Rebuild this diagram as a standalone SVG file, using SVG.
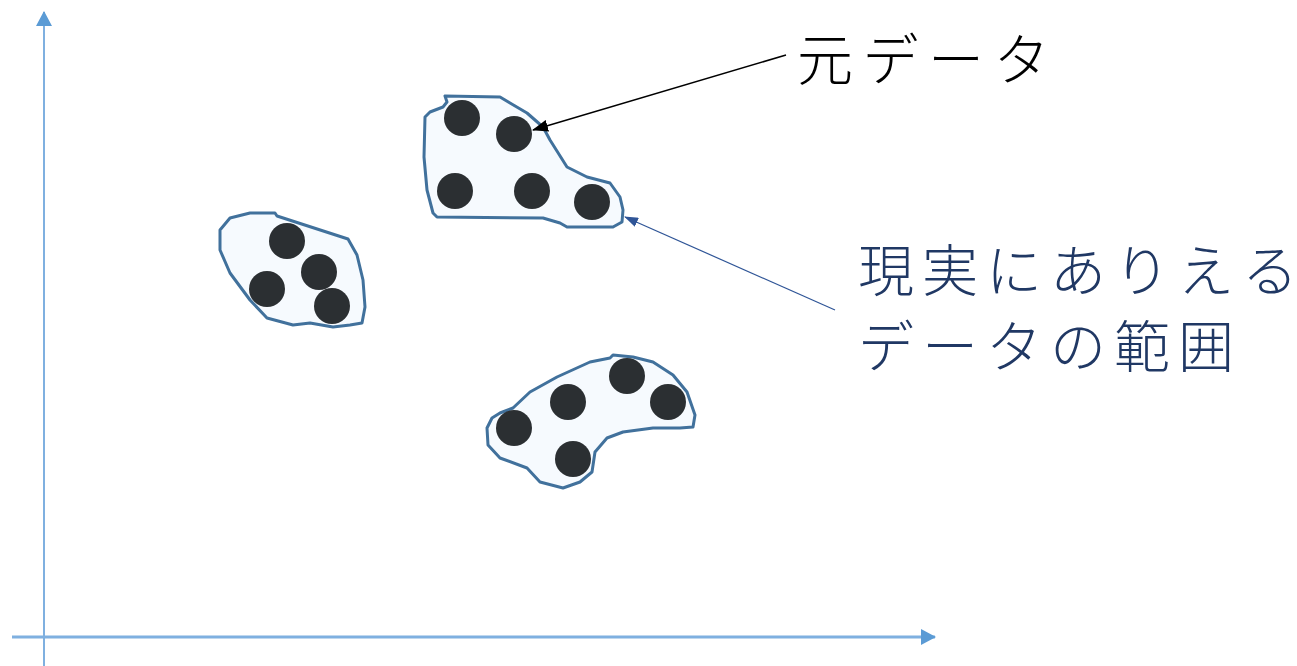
<svg xmlns="http://www.w3.org/2000/svg" width="1297" height="666" viewBox="0 0 1297 666">
<style>
.blob{fill:#F6FAFE;stroke:#41719C;stroke-width:3;stroke-linejoin:round}
.dot{fill:#2B2F32}
.axis{stroke:#7FB0E0;stroke-width:2;fill:none}
.lbl{font-family:"Noto Sans CJK JP","Noto Sans",sans-serif;font-size:56px;font-weight:300}
</style>
<defs>
<marker id="axHead" markerWidth="15" markerHeight="16" refX="14" refY="8" orient="auto" markerUnits="userSpaceOnUse" viewBox="0 0 15 16"><path d="M0,0 L15,8 L0,16 Z" fill="#5B9BD5"/></marker>
<marker id="blkHead" markerWidth="16" markerHeight="12" refX="15" refY="6" orient="auto" markerUnits="userSpaceOnUse" viewBox="0 0 16 12"><path d="M0,0 L16,6 L0,12 Z" fill="#000"/></marker>
<marker id="bluHead" markerWidth="14" markerHeight="10" refX="13" refY="5" orient="auto" markerUnits="userSpaceOnUse" viewBox="0 0 14 10"><path d="M0,0 L14,5 L0,10 Z" fill="#2F5597"/></marker>
</defs>
<g id="axes">
<line class="axis" x1="44" y1="666" x2="44" y2="12" marker-end="url(#axHead)"/>
<line class="axis" x1="12" y1="637" x2="935" y2="637" marker-end="url(#axHead)" style="stroke-width:3"/>
</g>
<g id="cluster-top">
<path class="blob" d="M445,96 L500,97 L510,103 L527,113 L543,127 L550,140 L567,167 L587,177 L610,183 L620,197 L623,210 L622,222 L613,227 L567,227 L560,223 L543,218 L437,217 L433,213 L427,190 L424,157 L425,117 L430,112 L443,107 L447,102 Z"/>
<circle class="dot" cx="462" cy="118" r="18"/>
<circle class="dot" cx="514" cy="134" r="18"/>
<circle class="dot" cx="455" cy="191" r="18"/>
<circle class="dot" cx="532" cy="191" r="18"/>
<circle class="dot" cx="592" cy="202" r="18"/>
</g>
<g id="cluster-left">
<path class="blob" d="M275,213 L277,216 L348,239 L357,255 L363,280 L365,307 L362,323 L350,325 L333,327 L310,323 L293,325 L267,318 L250,300 L230,273 L220,250 L220,230 L230,218 L250,213 Z"/>
<circle class="dot" cx="287" cy="241" r="18"/>
<circle class="dot" cx="319" cy="272" r="18"/>
<circle class="dot" cx="267" cy="289" r="18"/>
<circle class="dot" cx="332" cy="306" r="18"/>
</g>
<g id="cluster-bottom">
<path class="blob" d="M613,355 L633,357 L653,362 L673,375 L687,392 L695,415 L693,427 L680,428 L653,428 L623,432 L607,438 L595,452 L592,472 L580,482 L563,488 L540,482 L527,468 L500,458 L488,445 L487,428 L492,418 L500,413 L513,408 L530,392 L557,377 L590,362 L610,358 Z"/>
<circle class="dot" cx="627" cy="376" r="18"/>
<circle class="dot" cx="668" cy="402" r="18"/>
<circle class="dot" cx="568" cy="402" r="18"/>
<circle class="dot" cx="514" cy="428" r="18"/>
<circle class="dot" cx="573" cy="459" r="18"/>
</g>
<g id="connectors">
<line x1="786" y1="55" x2="533" y2="130" stroke="#000" stroke-width="1.5" marker-end="url(#blkHead)"/>
<line x1="835" y1="310" x2="625" y2="217" stroke="#2F5597" stroke-width="1.2" marker-end="url(#bluHead)"/>
</g>
<g id="label-original">
<text class="lbl" x="797" y="80" fill="#000" letter-spacing="9.5">元デー<tspan letter-spacing="0">タ</tspan></text>
</g>
<g id="label-range">
<text class="lbl" x="858" y="291" fill="#203864" letter-spacing="8">現実にありえ<tspan letter-spacing="0">る</tspan></text>
<text class="lbl" x="858" y="367" fill="#203864" letter-spacing="8">データの範<tspan letter-spacing="0">囲</tspan></text>
</g>
</svg>
